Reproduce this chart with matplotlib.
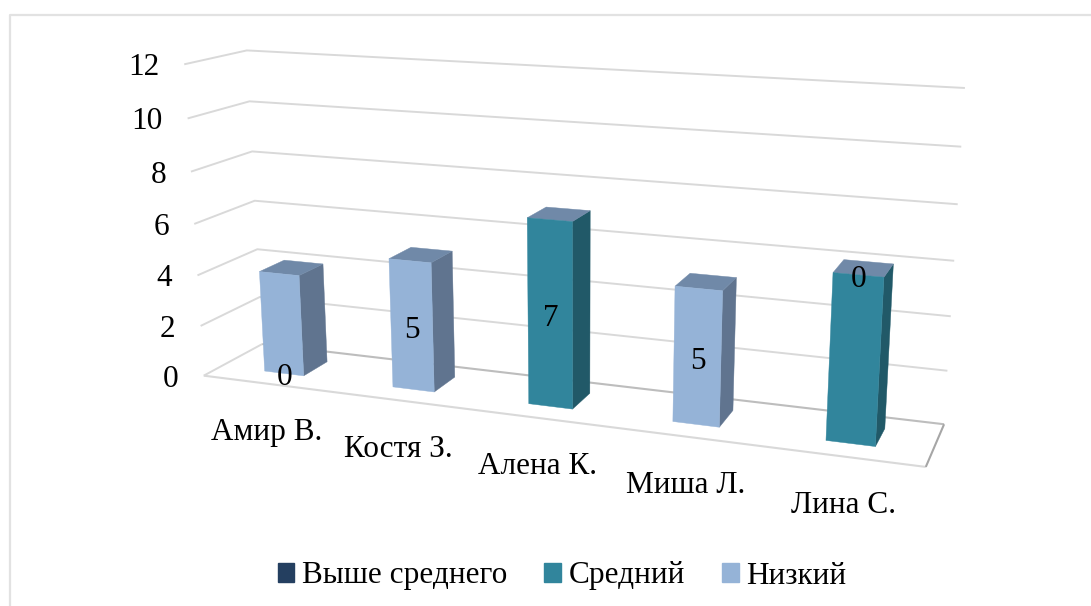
import numpy as np
import matplotlib
matplotlib.use("Agg")
import matplotlib.pyplot as plt
from matplotlib.patches import Patch

plt.rcParams["font.family"] = ["Liberation Serif", "DejaVu Serif"]

names = ["Амир В.", "Костя З.", "Алена К.", "Миша Л.", "Лина С."]
above_avg = [0, 0, 0, 0, 0]
average = [0, 0, 7, 0, 6]
low = [4, 5, 0, 5, 0]
value_ticks = [0, 2, 4, 6, 8, 10, 12]
shown_labels = ["0", "5", "7", "5", "0"]
label_frac = [0, 0.5, 0.5, 0.5, 1]

DARK = "#243F60"
TEAL = "#31859C"
TEAL_SIDE = "#215968"
BLUE = "#95B3D7"
BLUE_SIDE = "#60748F"
TOP = "#7089A8"
GRID = "#D9D9D9"
FS = 22.5

# --------------------------------
# perspective camera of the 3d chart, fitted on the box corners
# world = (category, value, depth), depth 0 is front and 1 is back
# --------------------------------
world_pts = [(0, 0, 0), (5, 0, 0), (0, 0, 1), (5, 0, 1), (0, 12, 0), (0, 12, 1),
             (5, 12, 1), (0, 6, 0), (0, 6, 1), (5, 6, 1)]
pixel_pts = [(204, 374), (926, 468), (262, 346), (944, 423), (184, 65), (247, 50),
             (965, 88), (194, 224), (255, 200), (954, 261)]


def fit_camera(world, pixel):
    rows = []
    for (x, y, z), (u, v) in zip(world, pixel):
        rows.append([x, y, z, 1, 0, 0, 0, 0, -u * x, -u * y, -u * z, -u])
        rows.append([0, 0, 0, 0, x, y, z, 1, -v * x, -v * y, -v * z, -v])
    _, _, vt = np.linalg.svd(np.array(rows, dtype=float))
    return vt[-1].reshape(3, 4)


CAM = fit_camera(world_pts, pixel_pts)


def project(x, y, z):
    p = CAM @ np.array([x, y, z, 1.0])
    return p[0] / p[2], p[1] / p[2]


def draw_path(ax, pts, **kw):
    xy = np.array([project(*p) for p in pts])
    ax.plot(xy[:, 0], xy[:, 1], solid_capstyle="butt", **kw)


def draw_face(ax, pts, color, zorder):
    xy = np.array([project(*p) for p in pts])
    ax.fill(xy[:, 0], xy[:, 1], color=color, lw=0.3, zorder=zorder)


def draw_bar(ax, i, y0, y1, front, side, width=0.31, z0=0.3, z1=0.73):
    x0 = i + 0.5 - width / 2
    x1 = i + 0.5 + width / 2
    zo = 3 + i * 0.01
    draw_face(ax, [(x1, y0, z0), (x1, y0, z1), (x1, y1, z1), (x1, y1, z0)], side, zo)
    draw_face(ax, [(x0, y1, z0), (x1, y1, z0), (x1, y1, z1), (x0, y1, z1)], TOP, zo)
    draw_face(ax, [(x0, y0, z0), (x1, y0, z0), (x1, y1, z0), (x0, y1, z0)], front, zo)


fig = plt.figure(figsize=(10.91, 6.06), dpi=100)
ax = fig.add_axes([0, 0, 1, 1])
ax.set_xlim(0, 1091)
ax.set_ylim(606, 0)
ax.axis("off")

# chart frame, cut by the picture on the right and at the bottom
ax.plot([9.5, 9.5, 1091], [606, 15, 15], color="#E2E2E2", lw=1.6)

# gridlines on side wall and back wall
for v in value_ticks[1:]:
    draw_path(ax, [(0, v, 0), (0, v, 1), (5, v, 1)], color=GRID, lw=1.4, zorder=1)

# floor
draw_path(ax, [(0, 0, 0), (0, 0, 1)], color=GRID, lw=1.4, zorder=1)
draw_path(ax, [(0, 0, 1), (5, 0, 1)], color="#BDBDBD", lw=1.5, zorder=1)
draw_path(ax, [(0, 0, 0), (5, 0, 0)], color=GRID, lw=1.5, zorder=1)
draw_path(ax, [(5, 0, 0), (5, 0, 1)], color="#A6A6A6", lw=1.5, zorder=1)

for i in range(len(names)):
    h_avg = above_avg[i] + average[i]
    h_low = h_avg + low[i]
    if average[i] > 0:
        draw_bar(ax, i, above_avg[i], h_avg, TEAL, TEAL_SIDE)
    if low[i] > 0:
        draw_bar(ax, i, h_avg, h_low, BLUE, BLUE_SIDE)

    lx, ly = project(i + 0.5, h_low * label_frac[i], 0.285)
    ax.text(lx + 1, ly + 4, shown_labels[i], fontsize=FS, ha="center", va="center", color="black", zorder=5)

    nx, ny = project(i + 0.5, 0, 0)
    ax.text(nx, ny + 49, names[i], fontsize=FS, ha="center", va="center", color="black", zorder=5)

for v in value_ticks:
    tx, ty = project(0, v, 0)
    ax.text(tx - 25, ty + 3.5, str(v), fontsize=FS, ha="right", va="center", color="black")

handles = [Patch(color=DARK, label="Выше среднего"), Patch(color=TEAL, label="Средний"), Patch(color=BLUE, label="Низкий")]
ax.legend(handles=handles, ncols=3, frameon=False, fontsize=FS, loc="center",
          bbox_to_anchor=(562, 576), bbox_transform=ax.transData,
          handlelength=0.52, handleheight=0.52, handletextpad=0.25, columnspacing=1.2,
          borderpad=0, borderaxespad=0)

fig.savefig("out.png", dpi=100, facecolor="white")
